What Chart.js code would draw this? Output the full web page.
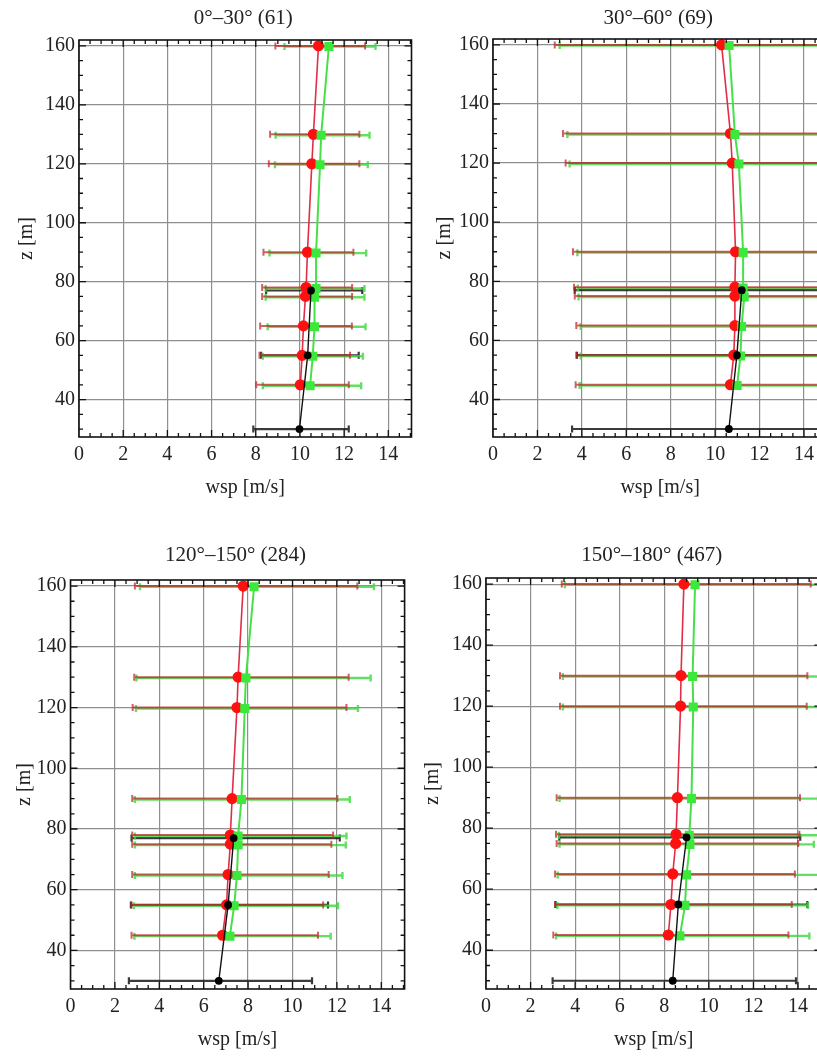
<!DOCTYPE html>
<html>
<head>
<meta charset="utf-8">
<script src="https://cdn.jsdelivr.net/npm/chart.js@4.4.1/dist/chart.umd.min.js"></script>
<style>
  html, body { margin: 0; padding: 0; background: #fff; overflow: hidden; width: 817px; height: 1061px; position: relative; }
  canvas { position: absolute; }
</style>
</head>
<body>
<canvas id="p1"></canvas>
<canvas id="p2"></canvas>
<canvas id="p3"></canvas>
<canvas id="p4"></canvas>
<script>
// heights of the measurements
const heights = [45, 55, 65, 75, 78, 90, 120, 130, 160];
const greenHeights = [44.7, 54.7, 64.7, 74.7, 77.7, 89.7, 119.7, 129.7, 159.8];
const blackHeights = [30, 55, 77];
const xTicks = [0, 2, 4, 6, 8, 10, 12, 14];
const yTicks = [40, 60, 80, 100, 120, 140, 160];

// 0-30
const red1 = [10.02, 10.1, 10.16, 10.25, 10.28, 10.34, 10.54, 10.61, 10.84];
const red1Lo = [8.02, 8.17, 8.2, 8.29, 8.29, 8.35, 8.59, 8.65, 8.89];
const red1Hi = [12.21, 12.27, 12.35, 12.36, 12.36, 12.42, 12.69, 12.69, 12.95];
const green1 = [10.46, 10.58, 10.66, 10.66, 10.73, 10.73, 10.91, 10.96, 11.31];
const green1Lo = [8.32, 8.32, 8.54, 8.45, 8.45, 8.62, 8.87, 8.9, 9.3];
const green1Hi = [12.77, 12.85, 12.97, 12.92, 12.92, 13.0, 13.07, 13.15, 13.42];
const black1 = [9.98, 10.35, 10.5];
const black1Lo = [7.89, 8.24, 8.47];
const black1Hi = [12.21, 12.66, 12.82];

// 30-60
const red2 = [10.69, 10.84, 10.89, 10.89, 10.89, 10.92, 10.77, 10.69, 10.29];
const red2Lo = [3.72, 3.75, 3.75, 3.68, 3.65, 3.6, 3.27, 3.15, 2.78];
const red2Hi = [17.6, 17.9, 18.0, 18.1, 18.1, 18.2, 18.3, 18.2, 17.8];
const green2 = [10.99, 11.14, 11.19, 11.31, 11.26, 11.26, 11.07, 10.89, 10.63];
const green2Lo = [3.9, 3.95, 3.95, 3.85, 3.82, 3.8, 3.45, 3.35, 3.0];
const green2Hi = [18.1, 18.4, 18.5, 18.6, 18.6, 18.7, 18.7, 18.5, 18.3];
const black2 = [10.62, 10.98, 11.2];
const black2Lo = [3.56, 3.78, 3.68];
const black2Hi = [17.7, 18.2, 18.4];

// 120-150
const red3 = [6.85, 7.03, 7.1, 7.2, 7.2, 7.28, 7.5, 7.55, 7.78];
const red3Lo = [2.75, 2.75, 2.78, 2.78, 2.78, 2.78, 2.8, 2.87, 2.9];
const red3Hi = [11.15, 11.38, 11.63, 11.75, 11.83, 12.02, 12.43, 12.53, 12.92];
const green3 = [7.18, 7.37, 7.5, 7.55, 7.55, 7.7, 7.85, 7.9, 8.27];
const green3Lo = [2.88, 2.86, 2.9, 2.9, 2.9, 2.9, 2.95, 2.97, 3.13];
const green3Hi = [11.72, 12.05, 12.25, 12.4, 12.43, 12.58, 12.95, 13.52, 13.67];
const black3 = [6.68, 7.1, 7.35];
const black3Lo = [2.63, 2.72, 2.75];
const black3Hi = [10.88, 11.6, 12.13];

// 150-180
const red4 = [8.18, 8.3, 8.38, 8.51, 8.53, 8.59, 8.73, 8.75, 8.88];
const red4Lo = [3.02, 3.1, 3.1, 3.17, 3.14, 3.17, 3.32, 3.32, 3.4];
const red4Hi = [13.57, 13.72, 13.86, 14.01, 14.06, 14.09, 14.39, 14.42, 14.57];
const green4 = [8.7, 8.93, 9.0, 9.15, 9.12, 9.22, 9.3, 9.27, 9.38];
const green4Lo = [3.15, 3.2, 3.22, 3.3, 3.27, 3.3, 3.45, 3.45, 3.54];
const green4Hi = [14.51, 14.45, 15.0, 14.71, 15.2, 14.9, 15.1, 15.1, 15.3];
const black4 = [8.38, 8.63, 9.0];
const black4Lo = [2.99, 3.12, 3.29];
const black4Hi = [13.91, 14.42, 14.1];

Chart.defaults.font.family = '"Liberation Serif", "Times New Roman", serif';
Chart.defaults.font.size = 20;
Chart.defaults.color = '#222';

// horizontal error bars drawn under the lines
const errorBars = {
  id: 'errorBars',
  beforeDatasetsDraw(chart) {
    const { ctx, chartArea, scales: { x, y } } = chart;
    ctx.save();
    ctx.beginPath();
    ctx.rect(chartArea.left, chartArea.top, chartArea.right - chartArea.left, chartArea.bottom - chartArea.top);
    ctx.clip();
    chart.data.datasets.forEach(ds => {
      ctx.strokeStyle = ds.barColor;
      ctx.lineWidth = ds.barWidth;
      ds.data.forEach((p, i) => {
        const py = y.getPixelForValue(p.y);
        const x1 = x.getPixelForValue(ds.lo[i]);
        const x2 = x.getPixelForValue(ds.hi[i]);
        ctx.beginPath();
        ctx.moveTo(x1, py); ctx.lineTo(x2, py);
        ctx.moveTo(x1, py - 3.5); ctx.lineTo(x1, py + 3.5);
        ctx.moveTo(x2, py - 3.5); ctx.lineTo(x2, py + 3.5);
        ctx.stroke();
      });
    });
    ctx.restore();
  }
};

// mathematica style frame with inward ticks + title
const frame = {
  id: 'frame',
  afterDatasetsDraw(chart, args, opts) {
    const { ctx, chartArea: a, scales: { x, y } } = chart;
    ctx.save();
    ctx.strokeStyle = '#111';
    ctx.lineWidth = 1.6;
    ctx.strokeRect(a.left, a.top, a.right - a.left, a.bottom - a.top);
    ctx.lineWidth = 1.3;
    ctx.beginPath();
    for (let v = 0.5; v < 15.05; v += 0.5) {
      const px = x.getPixelForValue(v);
      const len = v % 2 === 0 ? 7 : 4;
      ctx.moveTo(px, a.bottom); ctx.lineTo(px, a.bottom - len);
      ctx.moveTo(px, a.top); ctx.lineTo(px, a.top + len);
    }
    for (let v = 30; v <= 160; v += 5) {
      const py = y.getPixelForValue(v);
      const len = v % 20 === 0 ? 7 : 4;
      ctx.moveTo(a.left, py); ctx.lineTo(a.left + len, py);
      ctx.moveTo(a.right, py); ctx.lineTo(a.right - len, py);
    }
    ctx.stroke();
    ctx.font = '21px "Liberation Serif", serif';
    ctx.fillStyle = '#222';
    ctx.textAlign = 'center';
    ctx.textBaseline = 'middle';
    ctx.fillText(opts.text, (a.left + a.right) / 2 - 2, opts.titleY);
    ctx.restore();
  }
};

function makePanel(id, pos, title, red, redLo, redHi, green, greenLo, greenHi, black, blackLo, blackHi) {
  const el = document.getElementById(id);
  el.width = pos.w; el.height = pos.h;
  el.style.left = pos.left + 'px'; el.style.top = pos.top + 'px';
  el.style.width = pos.w + 'px'; el.style.height = pos.h + 'px';

  const blackData = blackHeights.map((z, i) => ({ x: black[i], y: z }));
  const greenData = greenHeights.map((z, i) => ({ x: green[i], y: z }));
  const redData = heights.map((z, i) => ({ x: red[i], y: z }));

  return new Chart(el, {
    type: 'scatter',
    data: {
      datasets: [
        {
          label: 'black', data: blackData, lo: blackLo, hi: blackHi,
          barColor: 'rgba(25,25,25,0.85)', barWidth: 2.2,
          showLine: true, borderColor: '#111', borderWidth: 1.4,
          pointStyle: 'circle', pointRadius: 3.2, pointBackgroundColor: '#000', pointBorderColor: '#000'
        },
        {
          label: 'green', data: greenData, lo: greenLo, hi: greenHi,
          barColor: 'rgba(60,215,60,0.8)', barWidth: 2.4,
          showLine: true, borderColor: 'rgb(70,225,70)', borderWidth: 2,
          pointStyle: 'rect', pointRadius: 5, pointBackgroundColor: '#3de83d', pointBorderColor: '#3de83d'
        },
        {
          label: 'red', data: redData, lo: redLo, hi: redHi,
          barColor: 'rgba(190,35,40,0.72)', barWidth: 2,
          showLine: true, borderColor: 'rgb(225,45,70)', borderWidth: 1.6,
          pointStyle: 'circle', pointRadius: 4.8, pointBackgroundColor: '#ff1010', pointBorderColor: '#ff1010'
        }
      ]
    },
    options: {
      responsive: false,
      animation: false,
      events: [],
      layout: { padding: { left: 0, top: pos.areaTop, right: pos.w - pos.areaRight, bottom: 0 } },
      plugins: {
        legend: { display: false },
        tooltip: { enabled: false },
        frame: { text: title, titleY: pos.titleY }
      },
      scales: {
        x: {
          type: 'linear', min: 0, max: 15.05,
          afterBuildTicks: s => { s.ticks = xTicks.map(v => ({ value: v })); },
          afterFit: s => { s.height = 83; },
          grid: { color: '#8f8f8f', lineWidth: 1.2, drawTicks: false },
          border: { display: false },
          ticks: { padding: 6, maxRotation: 0 },
          title: { display: true, text: 'wsp [m/s]', padding: { top: 0, bottom: 20 } }
        },
        y: {
          type: 'linear', min: 27.3, max: 162,
          afterBuildTicks: s => { s.ticks = yTicks.map(v => ({ value: v })); },
          afterFit: s => { s.width = pos.areaLeft; },
          grid: { color: '#8f8f8f', lineWidth: 1.2, drawTicks: false },
          border: { display: false },
          ticks: { padding: 4 },
          title: { display: true, text: 'z [m]', padding: { top: pos.zPad, bottom: 0 } }
        }
      }
    },
    plugins: [errorBars, frame]
  });
}

makePanel('p1', { left: 0, top: 0, w: 420, h: 520, areaLeft: 79, areaTop: 40, areaRight: 411.5, titleY: 18, zPad: 15 },
  '0°–30° (61)', red1, red1Lo, red1Hi, green1, green1Lo, green1Hi, black1, black1Lo, black1Hi);
makePanel('p2', { left: 420, top: 0, w: 420, h: 520, areaLeft: 73, areaTop: 39, areaRight: 407.3, titleY: 18, zPad: 13 },
  '30°–60° (69)', red2, red2Lo, red2Hi, green2, green2Lo, green2Hi, black2, black2Lo, black2Hi);
makePanel('p3', { left: 0, top: 530, w: 420, h: 542, areaLeft: 70.5, areaTop: 50, areaRight: 404.6, titleY: 25, zPad: 13 },
  '120°–150° (284)', red3, red3Lo, red3Hi, green3, green3Lo, green3Hi, black3, black3Lo, black3Hi);
makePanel('p4', { left: 420, top: 530, w: 420, h: 542, areaLeft: 66, areaTop: 48, areaRight: 401.4, titleY: 25, zPad: 1 },
  '150°–180° (467)', red4, red4Lo, red4Hi, green4, green4Lo, green4Hi, black4, black4Lo, black4Hi);
</script>
</body>
</html>
